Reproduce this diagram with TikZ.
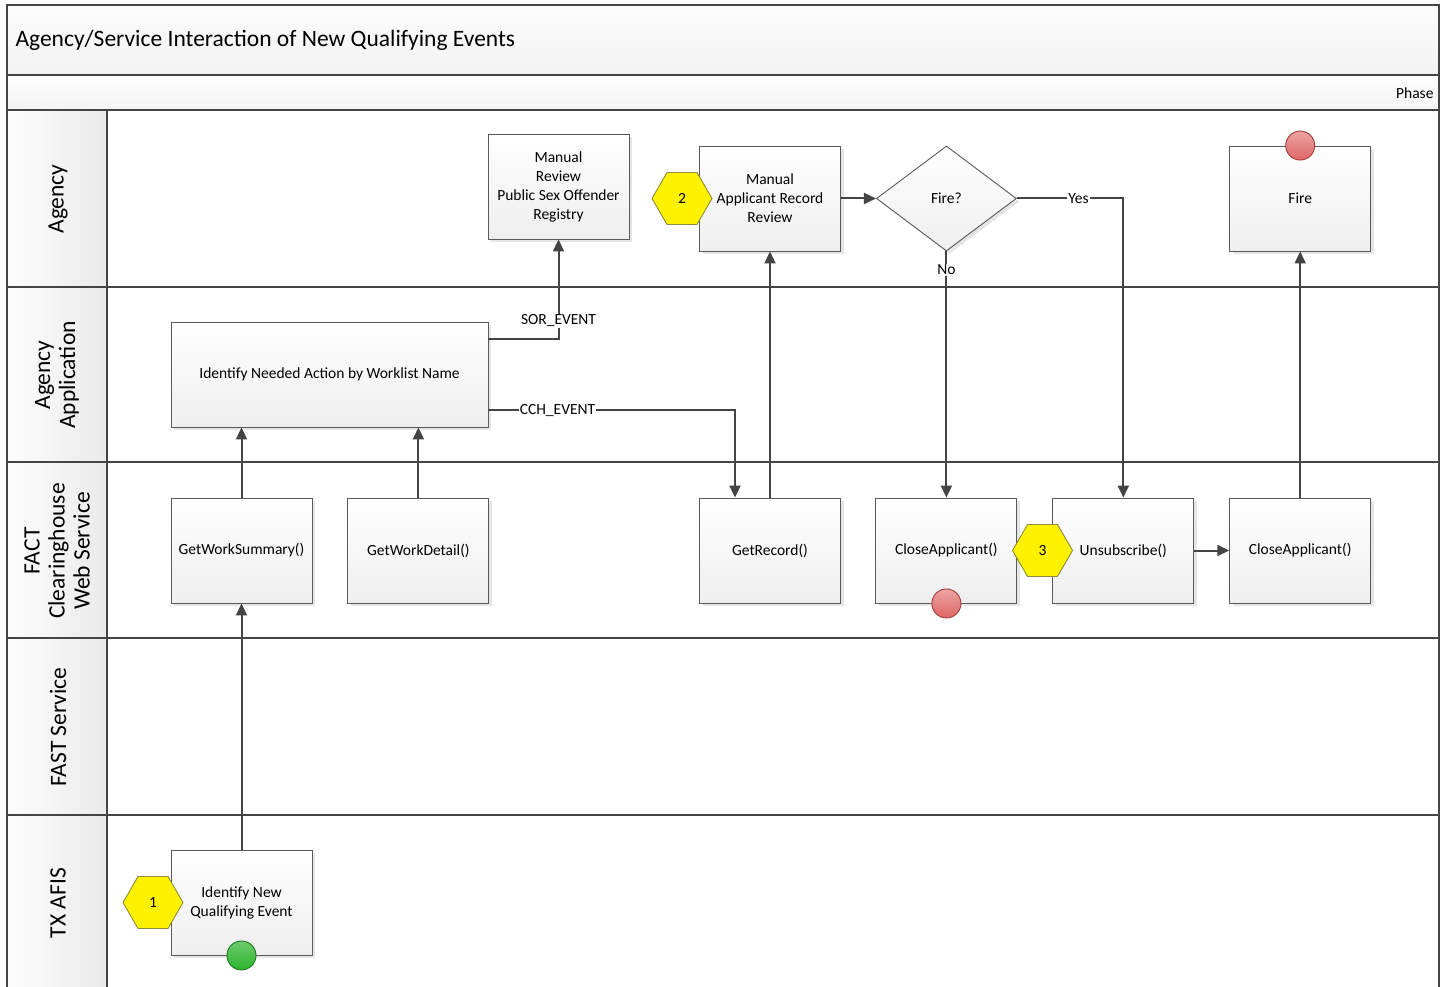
\documentclass[tikz,border=0pt]{standalone}
\usepackage{fontspec}
\setmainfont{Carlito}
\usepackage{tikz}
\usetikzlibrary{positioning,shapes.geometric,shadows,arrows.meta,calc}
\definecolor{lanegray}{HTML}{444444}
\definecolor{boxgray}{HTML}{5A5A5A}
\definecolor{hexline}{HTML}{8C8C3C}
\definecolor{stopred}{HTML}{E06666}
\definecolor{stopline}{HTML}{A33A3A}
\definecolor{startgreen}{HTML}{2DB52D}
\definecolor{startline}{HTML}{1F7A1F}
\tikzset{
	task/.style={draw=boxgray,line width=0.9pt,top color=white,bottom color=gray!13,
		minimum width=141pt,minimum height=105pt,inner sep=2pt,align=center,
		font=\fontsize{15.5}{19}\selectfont,
		drop shadow={shadow xshift=3pt,shadow yshift=-3pt,fill=gray!40,opacity=.5}},
	decide/.style={diamond,draw=boxgray,line width=0.9pt,top color=white,bottom color=gray!13,
		minimum width=140pt,minimum height=105pt,inner sep=0pt,
		font=\fontsize{15.5}{19}\selectfont,
		drop shadow={shadow xshift=3pt,shadow yshift=-3pt,fill=gray!40,opacity=.5}},
	stepno/.style={regular polygon,regular polygon sides=6,minimum size=60pt,inner sep=0pt,
		draw=hexline,line width=0.9pt,fill=yellow,font=\fontsize{15.5}{17}\selectfont},
	stopev/.style={circle,minimum size=29pt,inner sep=0pt,draw=stopline,line width=0.9pt,
		top color=stopred!60,bottom color=stopred},
	startev/.style={circle,minimum size=29pt,inner sep=0pt,draw=startline,line width=0.9pt,
		top color=startgreen!70,bottom color=startgreen},
	flow/.style={draw=lanegray,line width=2pt,-{Triangle[length=12pt,width=11pt]}},
	lbl/.style={fill=white,inner sep=1pt,font=\fontsize{15.5}{17}\selectfont},
	lane/.style={draw=lanegray,line width=1.8pt},
	lanename/.style={rotate=90,align=center,font=\fontsize{23.5}{25}\selectfont}
}
\begin{document}
\begin{tikzpicture}[x=1pt,y=-1pt]
	\useasboundingbox (0,0) rectangle (1445,987);
	% swimlane frame
	\path[top color=gray!2,bottom color=gray!10] (7,5) rectangle (1439,75);
	\path[top color=gray!1,bottom color=gray!9] (7,75) rectangle (1439,110);
	\path[left color=gray!2,right color=gray!16] (7,110) rectangle (107,987);
	\draw[lane] (7,987) -- (7,5) -- (1439,5) -- (1439,987);
	\draw[lane] (7,75) -- (1439,75);
	\foreach \y in {110,287,462,638,815}
		\draw[lane] (7,\y) -- (1439,\y);
	\draw[lane] (107,110) -- (107,987);
	\node(title) [anchor=west,font=\fontsize{23.5}{26}\selectfont] at (12,40) {Agency/Service Interaction of New Qualifying Events};
	\node(phase) [anchor=east,font=\fontsize{15.5}{17}\selectfont] at (1437,93) {Phase};
	\node(l1) [lanename] at (58,199) {Agency};
	\node(l2) [lanename] at (57,375) {Agency\\Application};
	\node(l3) [lanename] at (57,551) {FACT\\Clearinghouse\\Web Service};
	\node(l4) [lanename] at (58,727) {FAST Service};
	\node(l5) [lanename] at (58,903) {TX AFIS};
	% tasks
	\node(newev) [task] at (241.5,902.5) {Identify New\\Qualifying Event};
	\node(getsum) [task] at (241.5,550.5) {GetWorkSummary()};
	\node(getdet) [task,right=35pt of getsum] {GetWorkDetail()};
	\node(ident) [task,minimum width=317pt] at (329.5,374.5) {Identify Needed Action by Worklist Name};
	\node(sorrev) [task] at (558.5,186.5) {Manual\\Review\\Public Sex Offender\\Registry};
	\node(apprev) [task] at (770,198.5) {Manual\\Applicant Record\\Review};
	\node(getrec) [task] at (770,550.5) {GetRecord()};
	\node(firedec) [decide,right=35pt of apprev] {Fire?};
	\node(closea) [task] at (firedec |- getrec) {CloseApplicant()};
	\node(unsub) [task,right=35pt of closea] {Unsubscribe()};
	\node(closeb) [task,right=35pt of unsub] {CloseApplicant()};
	\node(fire) [task] at (closeb |- apprev) {Fire};
	% markers
	\node(hex1) [stepno] at (153,902.5) {1};
	\node(hex2) [stepno] at (682,198.5) {2};
	\node(hex3) [stepno] at (1042.5,550.5) {3};
	\node(startA) [startev] at (newev.south) {};
	\node(stopA) [stopev] at (closea.south) {};
	\node(stopB) [stopev] at (fire.north) {};
	% connectors
	\path[flow] (newev.north) -- (getsum.south);
	\path[flow] (getsum.north) -- (getsum.north |- ident.south);
	\path[flow] (getdet.north) -- (getdet.north |- ident.south);
	\path[flow] ([yshift=-17pt]ident.north east) -| node[lbl,pos=0.59] {SOR\_EVENT} (sorrev.south);
	\path[flow] ([yshift=17pt]ident.south east) -| node[lbl,pos=0.14] {CCH\_EVENT} ([xshift=-35pt]getrec.north);
	\path[flow] (getrec.north) -- (apprev.south);
	\path[flow] (apprev.east) -- (firedec.west);
	\path[flow] (firedec.south) -- node[lbl,pos=0.075] {No} (closea.north);
	\path[flow] (firedec.east) -| node[lbl,pos=0.29] {Yes} (unsub.north);
	\path[flow] (unsub.east) -- (closeb.west);
	\path[flow] (closeb.north) -- (fire.south);
\end{tikzpicture}
\end{document}
